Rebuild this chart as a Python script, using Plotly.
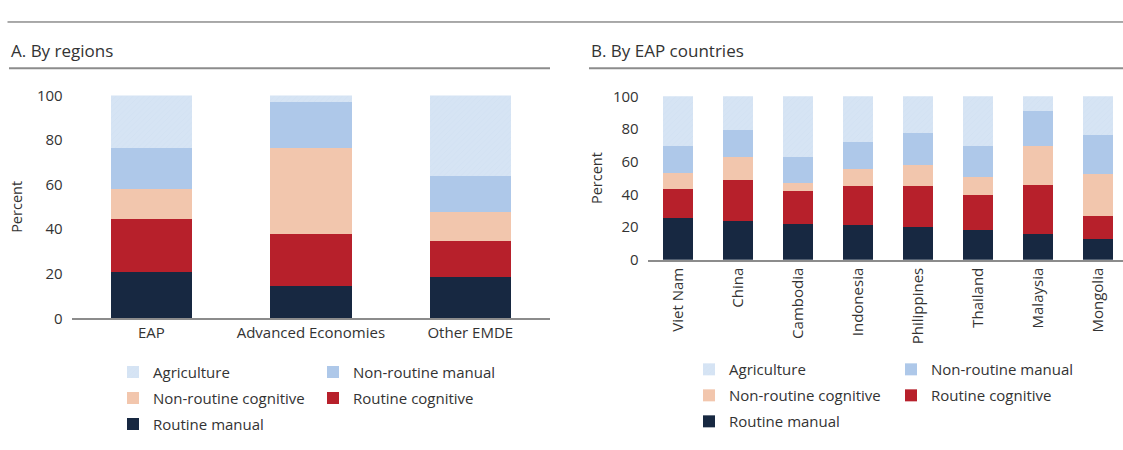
import plotly.graph_objects as go

W, H = 1123, 450

regions = ["EAP", "Advanced Economies", "Other EMDE"]
reg_routine_manual = [20.7, 14.6, 18.6]
reg_routine_cognitive = [24.0, 23.4, 16.0]
reg_nonroutine_cognitive = [13.4, 38.4, 13.0]
reg_nonroutine_manual = [18.3, 20.7, 16.4]
reg_agriculture = [23.6, 2.9, 36.0]

countries = ["Viet Nam", "China", "Cambodia", "Indonesia", "Philippines", "Thailand", "Malaysia", "Mongolia"]
cty_routine_manual = [25.3, 23.4, 21.6, 21.0, 20.2, 18.1, 16.0, 12.6]
cty_routine_cognitive = [18.2, 25.1, 20.3, 24.2, 25.0, 21.8, 29.8, 14.1]
cty_nonroutine_cognitive = [9.7, 14.1, 4.9, 10.1, 12.5, 10.7, 24.1, 25.7]
cty_nonroutine_manual = [16.6, 16.9, 15.9, 16.6, 19.7, 19.2, 21.1, 23.8]
cty_agriculture = [30.2, 20.5, 37.3, 28.1, 22.6, 30.2, 9.0, 23.8]

yticks = [0, 20, 40, 60, 80, 100]

FONT = "Open Sans"
TXT = "#333333"

series = [
    # name, colour, legend column (0/1), rank
    ("Routine manual", "#172841", 0, 3),
    ("Routine cognitive", "#B7202B", 1, 2),
    ("Non-routine cognitive", "#F2C6AD", 0, 2),
    ("Non-routine manual", "#AEC8E9", 1, 1),
    ("Agriculture", "#D6E4F4", 0, 1),
]
reg_vals = [reg_routine_manual, reg_routine_cognitive, reg_nonroutine_cognitive,
            reg_nonroutine_manual, reg_agriculture]
cty_vals = [cty_routine_manual, cty_routine_cognitive, cty_nonroutine_cognitive,
            cty_nonroutine_manual, cty_agriculture]

fig = go.Figure()

for (name, col, lcol, rank), vals in zip(series, reg_vals):
    marker = dict(color=col, line=dict(width=0))
    if name == "Agriculture":
        marker["pattern"] = dict(shape="/", fgcolor="#C9DBF0", size=4, solidity=0.15)
    fig.add_trace(go.Bar(
        x=regions, y=vals, name=name, marker=marker, width=0.51,
        xaxis="x", yaxis="y", legend="legend" if lcol == 0 else "legend2",
        legendrank=rank, legendgroup="a" + name,
    ))

for (name, col, lcol, rank), vals in zip(series, cty_vals):
    marker = dict(color=col, line=dict(width=0))
    if name == "Agriculture":
        marker["pattern"] = dict(shape="/", fgcolor="#C9DBF0", size=4, solidity=0.15)
    fig.add_trace(go.Bar(
        x=countries, y=vals, name=name, marker=marker, width=0.495,
        xaxis="x2", yaxis="y2", legend="legend3" if lcol == 0 else "legend4",
        legendrank=rank, legendgroup="b" + name,
    ))

def px_x(p):
    return p / W

def px_y(p):
    return 1 - p / H

axis_common = dict(showgrid=False, zeroline=False)

leg_common = dict(
    orientation="v", xanchor="left", yanchor="top", bgcolor="rgba(0,0,0,0)",
    font=dict(family=FONT, size=15, color=TXT), traceorder="grouped",
    tracegroupgap=3.5, itemclick=False, itemdoubleclick=False,
)

fig.update_layout(
    width=W, height=H, autosize=False,
    margin=dict(l=0, r=0, t=0, b=0),
    paper_bgcolor="white", plot_bgcolor="white",
    barmode="stack",
    font=dict(family=FONT, size=15, color=TXT),
    xaxis=dict(domain=[px_x(71.7), px_x(550)], range=[-0.5, 2.5],
               showline=True, linecolor="#8C8C8C", linewidth=2,
               ticks="", tickfont=dict(size=15, color=TXT), anchor="y", **axis_common),
    yaxis=dict(domain=[px_y(321.7), px_y(88.3)], range=[0, 100], tickvals=yticks,
               showline=False, ticks="", ticklabelstandoff=8,
               tickfont=dict(size=15, color=TXT), anchor="x",
               title=dict(text="Percent", font=dict(size=14.5, color=TXT), standoff=10),
               **axis_common),
    xaxis2=dict(domain=[px_x(647.7), 1.0], range=[-0.5, 7.42],
                showline=True, linecolor="#8C8C8C", linewidth=2,
                ticks="", tickangle=-90, tickfont=dict(size=15, color=TXT),
                anchor="y2", **axis_common),
    yaxis2=dict(domain=[px_y(260.3), px_y(89.3)], range=[0, 100], tickvals=yticks,
                showline=False, ticks="", ticklabelstandoff=8,
                tickfont=dict(size=15, color=TXT), anchor="x2",
                title=dict(text="Percent", font=dict(size=14.5, color=TXT), standoff=6),
                **axis_common),
    legend=dict(x=px_x(113), y=px_y(360.7), **leg_common),
    legend2=dict(x=px_x(313), y=px_y(360.7), **leg_common),
    legend3=dict(x=px_x(689), y=px_y(358), **leg_common),
    legend4=dict(x=px_x(891), y=px_y(358), **leg_common),
    showlegend=True,
)

# header rules and panel titles
fig.add_shape(type="line", xref="paper", yref="paper",
              x0=px_x(7.5), x1=1.0, y0=px_y(11.5), y1=px_y(11.5),
              line=dict(color="#555555", width=1))
fig.add_shape(type="line", xref="paper", yref="paper",
              x0=px_x(9), x1=px_x(550), y0=px_y(60), y1=px_y(60),
              line=dict(color="#8C8C8C", width=2))
fig.add_shape(type="line", xref="paper", yref="paper",
              x0=px_x(589), x1=1.0, y0=px_y(60), y1=px_y(60),
              line=dict(color="#8C8C8C", width=2))
fig.add_annotation(text="A. By regions", xref="paper", yref="paper",
                   x=px_x(9), y=px_y(41), xanchor="left", yanchor="middle",
                   showarrow=False, font=dict(family=FONT, size=17, color=TXT))
fig.add_annotation(text="B. By EAP countries", xref="paper", yref="paper",
                   x=px_x(589), y=px_y(41), xanchor="left", yanchor="middle",
                   showarrow=False, font=dict(family=FONT, size=17, color=TXT))

fig.write_html(
    "out.html",
    config={"displayModeBar": False},
    post_script="document.body.style.margin='0';document.body.style.overflow='hidden';",
)
